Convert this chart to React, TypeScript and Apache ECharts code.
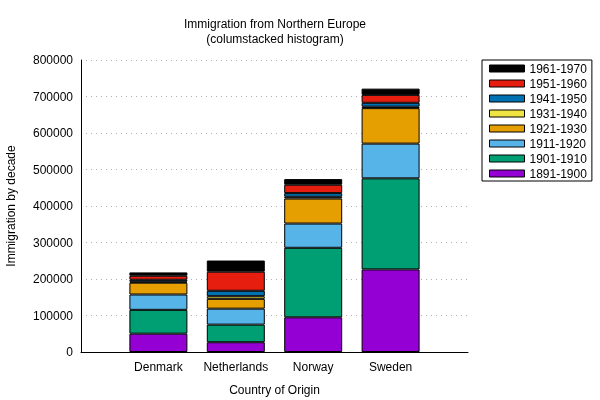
import React, { useEffect, useRef } from "react";
import * as echarts from "echarts";

const countries = ["Denmark", "Netherlands", "Norway", "Sweden"];
const decades = [
  "1891-1900",
  "1901-1910",
  "1911-1920",
  "1921-1930",
  "1931-1940",
  "1941-1950",
  "1951-1960",
  "1961-1970",
];
const d1891 = [50231, 26758, 95015, 226266];
const d1901 = [65285, 48262, 190505, 249534];
const d1911 = [41983, 43718, 66395, 95074];
const d1921 = [32430, 26948, 68531, 97249];
const d1931 = [2559, 7150, 4740, 3960];
const d1941 = [5393, 14860, 10100, 10665];
const d1951 = [10984, 52277, 22935, 21697];
const d1961 = [9201, 30606, 15484, 17116];
const yTicks = [0, 100000, 200000, 300000, 400000, 500000, 600000, 700000, 800000];

const colors = ["#9400d3", "#009e73", "#56b4e9", "#e69f00", "#f0e442", "#0072b2", "#e51e10", "#000000"];
const FONT = "'Liberation Sans', Arial, sans-serif";

export default function App() {
  const ref = useRef<HTMLDivElement>(null);
  useEffect(() => {
    if (!ref.current) return;
    const chart = echarts.init(ref.current, undefined, { renderer: "svg" });
    const all = [d1891, d1901, d1911, d1921, d1931, d1941, d1951, d1961];
    const cats = ["", ...countries, ""];
    const series = decades.map((name, i) => ({
      name,
      type: "bar",
      stack: "total",
      barWidth: 58,
      data: [null, ...all[i], null],
      itemStyle: { color: colors[i], borderColor: "#000", borderWidth: 1 },
    }));
    chart.setOption({
      animation: false,
      textStyle: { fontFamily: FONT },
      graphic: [
        {
          type: "text",
          x: 275,
          y: 24,
          style: {
            text: "Immigration from Northern Europe",
            font: `12px ${FONT}`,
            fill: "#000",
            textAlign: "center",
            textVerticalAlign: "middle",
          },
        },
        {
          type: "text",
          x: 275,
          y: 39,
          style: {
            text: "(columstacked histogram)",
            font: `12px ${FONT}`,
            fill: "#000",
            textAlign: "center",
            textVerticalAlign: "middle",
          },
        },
      ],
      legend: {
        orient: "vertical",
        left: 482,
        top: 60,
        data: [...decades].reverse(),
        itemWidth: 35,
        itemHeight: 7,
        itemGap: 0,
        icon: "rect",
        padding: [1, 5, 0, 7],
        borderColor: "#000",
        borderWidth: 1,
        borderRadius: 0,
        itemStyle: { borderColor: "#000", borderWidth: 1 },
        textStyle: { fontSize: 12, color: "#000", fontFamily: FONT, lineHeight: 15 },
      },
      grid: { left: 81, right: 132, top: 60, bottom: 48, containLabel: false, outerBoundsMode: "none" },
      xAxis: {
        type: "category",
        data: cats,
        boundaryGap: false,
        name: "Country of Origin",
        nameLocation: "middle",
        nameGap: 32,
        nameTextStyle: { fontSize: 12, color: "#000", fontFamily: FONT },
        axisLine: { show: true, lineStyle: { color: "#000", width: 1 } },
        axisTick: { show: false },
        axisLabel: { margin: 9, fontSize: 12, color: "#000", fontFamily: FONT, interval: 0 },
        splitLine: { show: false },
      },
      yAxis: {
        type: "value",
        min: yTicks[0],
        max: yTicks[yTicks.length - 1],
        interval: yTicks[1] - yTicks[0],
        name: "Immigration by decade",
        nameLocation: "middle",
        nameGap: 64,
        nameTextStyle: { fontSize: 12, color: "#000", fontFamily: FONT },
        axisLine: { show: true, lineStyle: { color: "#000", width: 1 } },
        axisTick: { show: false },
        axisLabel: {
          margin: 8,
          fontSize: 12,
          color: "#000",
          fontFamily: FONT,
          formatter: (v: number) => String(v),
        },
        splitLine: { show: true, lineStyle: { color: "#b0b0b0", type: [1, 4], width: 1 } },
      },
      series,
    });
    return () => chart.dispose();
  }, []);
  return <div ref={ref} style={{ position: "fixed", left: 0, top: 0, width: 600, height: 400 }} />;
}
